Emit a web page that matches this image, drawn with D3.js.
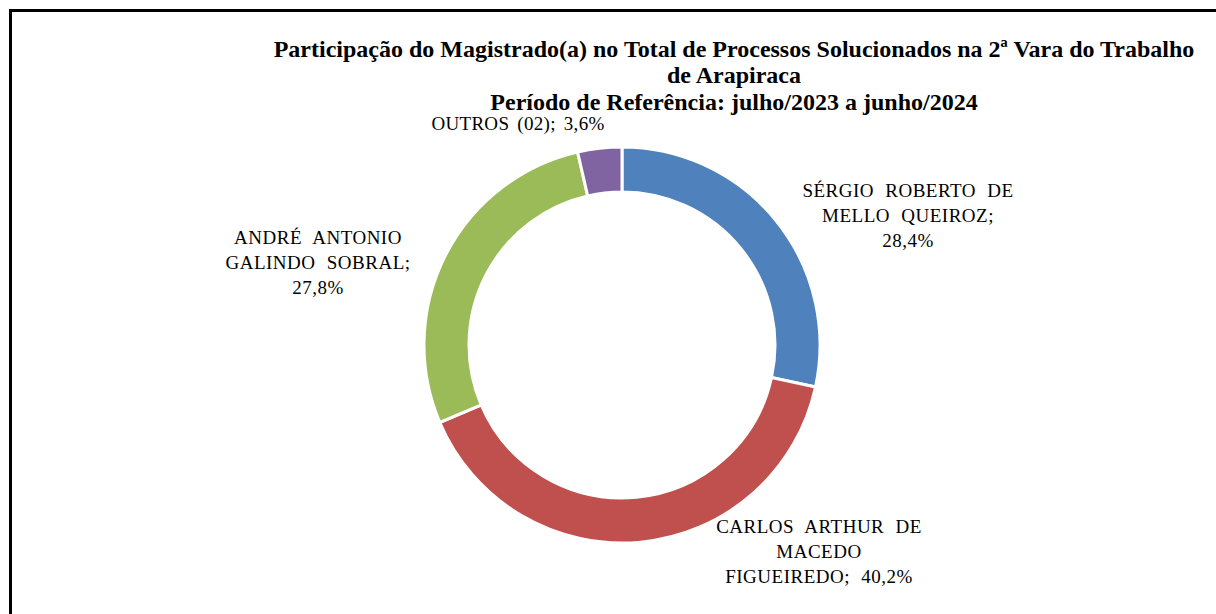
<!DOCTYPE html>
<html>
<head>
<meta charset="utf-8">
<script src="https://cdn.jsdelivr.net/npm/d3@7"></script>
<style>
  body { margin: 0; background: #fff; }
  svg { display: block; }
  text { font-family: "Liberation Serif", Tinos, "Times New Roman", serif; }
</style>
</head>
<body>
<div id="chart"></div>
<script>
// data
var names = ["SÉRGIO ROBERTO DE MELLO QUEIROZ", "CARLOS ARTHUR DE MACEDO FIGUEIREDO", "ANDRÉ ANTONIO GALINDO SOBRAL", "OUTROS (02)"];
var shares = [28.4, 40.2, 27.8, 3.6];
var labelLines = [
  ["SÉRGIO ROBERTO DE", "MELLO QUEIROZ;", "28,4%"],
  ["CARLOS ARTHUR DE", "MACEDO", "FIGUEIREDO; 40,2%"],
  ["ANDRÉ ANTONIO", "GALINDO SOBRAL;", "27,8%"],
  ["OUTROS (02); 3,6%"]
];
var colors = ["#4F81BD", "#C0504D", "#9BBB59", "#8064A2"];
var titleLines = [
  "Participação do Magistrado(a) no Total de Processos Solucionados na 2ª Vara do Trabalho",
  "de Arapiraca",
  "Período de Referência: julho/2023 a junho/2024"
];

var width = 1216, height = 614;
var cx = 622, cy = 345, outerR = 198, innerR = 153;

var svg = d3.select("#chart")
  .append("svg")
  .attr("width", width)
  .attr("height", height);

// frame (cut off at right and bottom like the source)
svg.append("rect")
  .attr("x", 10.5).attr("y", 10.5)
  .attr("width", 1400).attr("height", 800)
  .attr("fill", "none")
  .attr("stroke", "#000")
  .attr("stroke-width", 3);

// title
var titleY = [57, 83, 110];
svg.selectAll(".title")
  .data(titleLines)
  .enter().append("text")
  .attr("class", "title")
  .attr("x", 734)
  .attr("y", function(d, i) { return titleY[i]; })
  .attr("text-anchor", "middle")
  .style("font-weight", "bold")
  .style("font-size", "24px")
  .text(function(d) { return d; });

// donut
var data = names.map(function(n, i) { return {name: n, value: shares[i], i: i}; });
var pie = d3.pie().sort(null).value(function(d) { return d.value; });
var arc = d3.arc().innerRadius(innerR).outerRadius(outerR);

var g = svg.append("g").attr("transform", "translate(" + cx + "," + cy + ")");
g.selectAll("path")
  .data(pie(data))
  .enter().append("path")
  .attr("d", arc)
  .attr("fill", function(d) { return colors[d.data.i]; })
  .attr("stroke", "#fff")
  .attr("stroke-width", 3);

// labels
var labelPos = [[908, 197], [819, 533], [318, 244], [518, 130]];
labelLines.forEach(function(lines, i) {
  var multi = lines.length > 1;
  var t = svg.append("text")
    .attr("text-anchor", "middle")
    .style("font-size", "19px")
    .style("letter-spacing", multi ? "0.5px" : "0.3px")
    .style("word-spacing", multi ? "6px" : "3px")
    .attr("fill", "#000");
  lines.forEach(function(l, j) {
    t.append("tspan")
      .attr("x", labelPos[i][0])
      .attr("y", labelPos[i][1] + j * 25)
      .text(l);
  });
});
</script>
</body>
</html>
